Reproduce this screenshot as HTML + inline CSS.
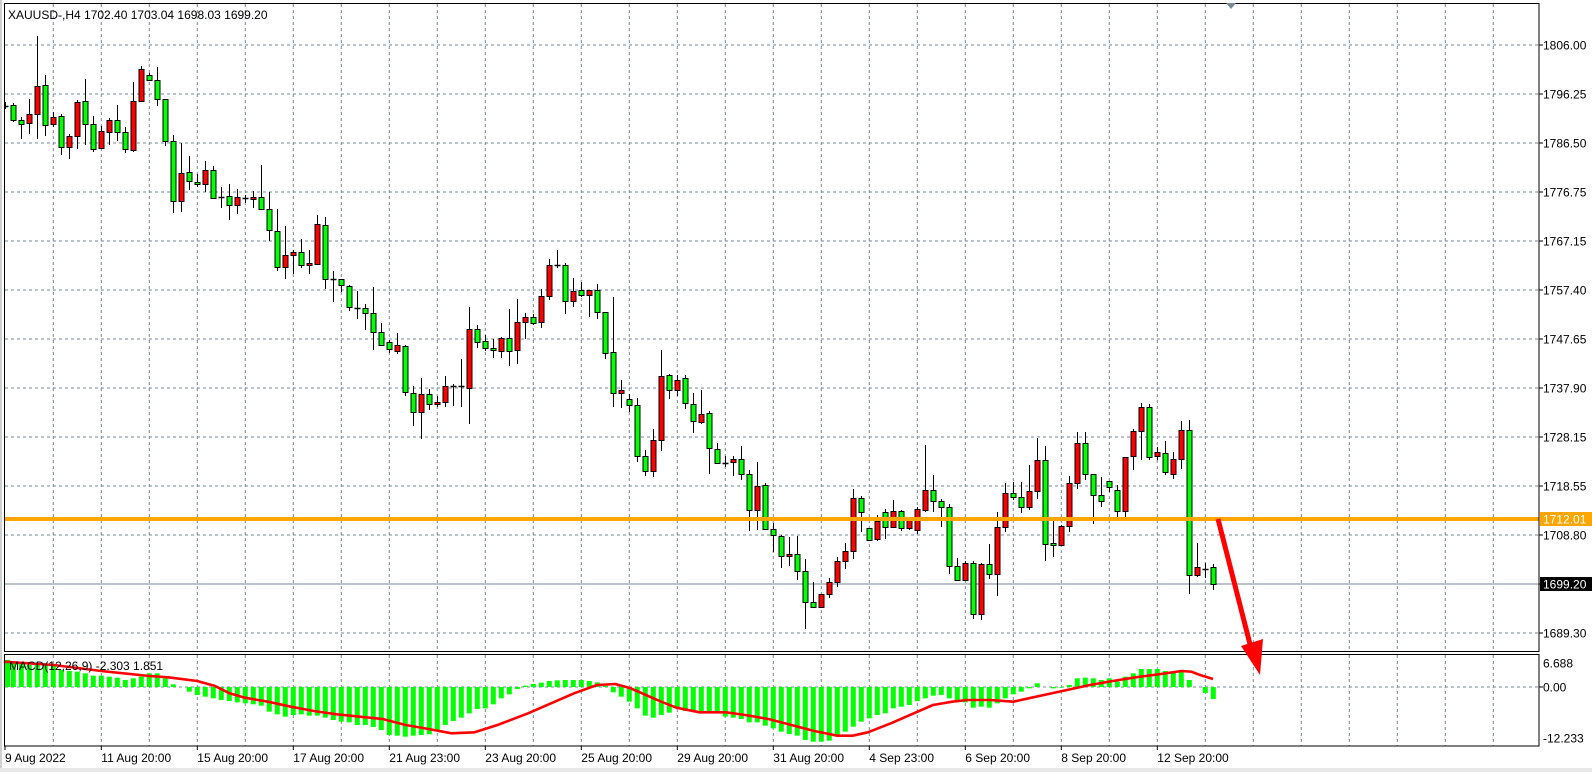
<!DOCTYPE html>
<html><head><meta charset="utf-8"><style>
html,body{margin:0;padding:0;background:#fff;}
svg{display:block;font-family:"Liberation Sans",Tahoma,sans-serif;font-size:12px;}
</style></head><body>
<svg id="c" width="1592" height="772" xmlns="http://www.w3.org/2000/svg">
<rect x="0" y="0" width="1592" height="772" fill="#fff"/>
<rect x="0" y="768" width="1592" height="4" fill="#e8e8e8"/>
<line x1="1" y1="0" x2="1" y2="768" stroke="#a0a0a0" stroke-width="1"/>
<g id="grid"></g>
<g id="hist"></g>
<polyline id="sig" fill="none" stroke="#ff0000" stroke-width="2.6" stroke-linejoin="round"/>
<line x1="5" y1="584" x2="1539" y2="584" stroke="#778899" stroke-width="1"/>
<g id="candles"></g>
<line x1="5" y1="519" x2="1539" y2="519" stroke="#ffa500" stroke-width="4"/>
<rect x="4.5" y="3.5" width="1534.5" height="648" fill="none" stroke="#000" stroke-width="1"/>
<rect x="4.5" y="654.5" width="1534.5" height="91.5" fill="none" stroke="#000" stroke-width="1"/>
<polygon points="1226,3 1236,3 1231,9" fill="#778899"/>
<text x="8" y="19" fill="#000">XAUUSD-,H4  1702.40 1703.04 1698.03 1699.20</text>
<text x="9" y="670" fill="#000">MACD(12,26,9) -2.303 1.851</text>
<g id="axis"></g>
<rect x="1540" y="512" width="52" height="14" fill="#ffa500"/>
<text x="1543" y="523.5" fill="#fff">1712.01</text>
<rect x="1540" y="577" width="52" height="14" fill="#000"/>
<text x="1543" y="588.5" fill="#fff">1699.20</text>
<line x1="1218" y1="519" x2="1252" y2="652" stroke="#ff0000" stroke-width="5"/>
<polygon points="1241,646 1263,639 1260,675" fill="#ff0000"/>
</svg>
<script>
var NS="http://www.w3.org/2000/svg";
function el(p,t,a,txt){var e=document.createElementNS(NS,t);for(var k in a)e.setAttribute(k,a[k]);if(txt!=null)e.textContent=txt;p.appendChild(e);return e;}
var g=document.getElementById('grid');
for(var k=0;k<=30;k++){var x=53.3+48*k;el(g,'line',{x1:x,y1:4,x2:x,y2:652,stroke:'#778899','stroke-dasharray':'3,3'});el(g,'line',{x1:x,y1:655,x2:x,y2:746,stroke:'#778899','stroke-dasharray':'3,3'});}
for(var k=0;k<=12;k++){var y=45+49*k;if(k==11)continue;el(g,'line',{x1:5,y1:y,x2:1539,y2:y,stroke:'#778899','stroke-dasharray':'3,3'});}
el(g,'line',{x1:5,y1:687,x2:1539,y2:687,stroke:'#778899','stroke-dasharray':'3,3'});
var ax=document.getElementById('axis');
var labs=["1806.00","1796.25","1786.50","1776.75","1767.15","1757.40","1747.65","1737.90","1728.15","1718.55","1708.80",null,"1689.30"];
for(var k=0;k<13;k++){var y=45+49*k;el(ax,'line',{x1:1539,y1:y,x2:1543,y2:y,stroke:'#000'});if(labs[k])el(ax,'text',{x:1543,y:y+4.5,fill:'#000'},labs[k]);}
[["6.688",663],["0.00",687],["-12.233",738]].forEach(function(a){el(ax,'text',{x:1543,y:a[1]+4.5,fill:'#000'},a[0]);});
el(ax,'line',{x1:1539,y1:687,x2:1543,y2:687,stroke:'#000'});
var tl=["11 Aug 20:00","15 Aug 20:00","17 Aug 20:00","21 Aug 23:00","23 Aug 20:00","25 Aug 20:00","29 Aug 20:00","31 Aug 20:00","4 Sep 23:00","6 Sep 20:00","8 Sep 20:00","12 Sep 20:00"];
el(ax,'text',{x:5,y:762,fill:'#000'},"9 Aug 2022");el(ax,'line',{x1:5,y1:746,x2:5,y2:750,stroke:'#000'});
for(var i=0;i<tl.length;i++){var x=53.3+48*(2*i+1);el(ax,'line',{x1:x,y1:746,x2:x,y2:750,stroke:'#000'});el(ax,'text',{x:x,y:762,fill:'#000'},tl[i]);}
var H=[45,50,55,60,58,55,60,75,78,80,85,92,92,95,98,105,100,95,85,85,100,118,127,140,150,155,160,165,168,172,175,178,182,200,208,215,210,208,212,212,218,225,230,232,240,240,246,255,270,272,275,272,270,268,258,240,228,218,205,192,190,178,160,148,132,122,117,113,108,106,105,105,105,108,112,122,142,155,170,190,212,218,210,203,190,198,198,200,200,200,215,218,222,232,232,242,250,260,267,272,285,290,290,287,270,260,245,230,220,210,205,190,185,180,168,160,152,150,160,165,172,188,185,188,175,160,148,140,130,115,125,130,128,120,100,98,100,105,100,110,95,85,72,72,72,78,80,75,105,127,144,162];
var hg=document.getElementById('hist');
for(var i=0;i<H.length;i++){var x=5.3+8*i,y=645+H[i]/3,t=Math.min(y,687),h=Math.abs(687-y);if(h<0.5)continue;el(hg,'rect',{x:Math.max(5,x-2.5),y:t,width:5,height:h,fill:'#00ff00'});}
var s1=[[10,50],[140,60],[265,78],[390,93],[440,97],[515,108],[560,122],[600,145],[640,158],[700,170],[760,185],[820,198],[880,208],[940,215],[1000,222],[1060,240],[1120,252],[1180,265],[1240,262],[1300,240],[1380,205],[1440,175],[1500,145],[1560,120]];
var s2=[[40,117],[80,130],[120,150],[160,170],[200,188],[260,202],[330,202],[380,210],[440,222],[500,240],[560,258],[620,272],[660,272],[700,262],[760,235],[820,205],[870,180],[920,170],[960,165],[1020,165],[1080,170],[1120,160],[1160,150],[1220,135],[1280,120],[1340,108],[1400,97],[1460,88],[1520,78],[1545,80],[1568,90]];
var pts=[];s1.forEach(function(p){pts.push((p[0]/2.613).toFixed(1)+','+(645+p[1]/3).toFixed(1));});
s2.forEach(function(p){pts.push((600+p[0]/2.613).toFixed(1)+','+(645+p[1]/3).toFixed(1));});
pts.push('1213,679');
document.getElementById('sig').setAttribute('points',pts.join(' '));
var C=[[102,109,106,106,'k'],[103,122,105,120,'g'],[117,139,120,124,'g'],[99,134,114,123,'r'],[36,139,86,114,'r'],[75,136,85,125,'g'],[112,127,117,124,'r'],[114,155,116,147,'g'],[134,159,136,147,'r'],[100,149,102,136,'r'],
[79,145,101,124,'g'],[116,152,124,149,'g'],[126,149,131,148,'r'],[118,145,120,132,'r'],[105,141,120,132,'g'],[127,153,132,149,'g'],[82,152,101,150,'r'],[66,101,69,101,'r'],[73,81,75,80,'g'],[67,106,80,99,'g'],
[99,146,99,141,'g'],[135,213,141,201,'g'],[143,212,173,201,'r'],[156,190,172,181,'g'],[174,187,182,184,'g'],[161,192,170,184,'r'],[166,198,170,198,'g'],[187,208,197,197,'k'],[184,220,196,205,'g'],[189,214,197,205,'r'],
[195,203,198,198,'k'],[191,208,197,199,'r'],[165,209,197,209,'g'],[192,241,209,230,'g'],[209,271,231,267,'g'],[226,279,255,267,'r'],[250,274,252,255,'r'],[239,268,252,265,'g'],[250,274,263,265,'r'],[215,264,224,264,'r'],
[217,289,225,279,'g'],[271,302,279,279,'k'],[279,292,279,285,'g'],[285,311,286,307,'g'],[291,319,308,308,'k'],[304,330,308,313,'g'],[287,350,313,332,'g'],[323,345,332,345,'g'],[340,353,342,349,'g'],[333,354,345,351,'r'],
[345,396,346,392,'g'],[386,426,393,412,'g'],[378,439,394,412,'r'],[389,410,394,404,'g'],[396,407,402,404,'r'],[376,407,386,402,'r'],[384,406,386,386,'k'],[359,407,386,388,'k'],[307,424,329,388,'r'],[325,348,329,342,'g'],
[335,351,341,348,'g'],[339,358,348,350,'g'],[337,358,338,351,'r'],[309,366,338,351,'g'],[299,364,322,350,'r'],[313,339,317,322,'r'],[314,325,317,323,'g'],[289,328,296,322,'r'],[259,300,265,296,'r'],[250,268,265,265,'k'],
[263,314,265,301,'g'],[278,307,291,301,'r'],[282,297,290,295,'g'],[290,317,290,295,'r'],[284,319,290,312,'g'],[312,359,312,353,'g'],[297,407,352,393,'g'],[380,408,390,393,'r'],[394,412,399,405,'g'],[398,462,405,456,'g'],
[450,476,456,471,'g'],[429,477,440,471,'r'],[350,451,376,440,'r'],[374,399,375,390,'g'],[375,396,380,390,'r'],[375,409,378,403,'g'],[393,433,404,421,'g'],[390,424,414,422,'r'],[411,474,413,448,'g'],[443,464,449,463,'g'],
[456,467,463,463,'k'],[456,476,459,462,'r'],[446,480,459,474,'g'],[470,531,474,510,'g'],[462,530,486,510,'r'],[483,530,485,529,'g'],[523,552,529,535,'g'],[535,568,536,556,'g'],[537,566,554,556,'r'],[536,580,554,571,'g'],
[559,629,571,602,'g'],[582,608,602,607,'g'],[594,608,594,607,'r'],[578,598,582,594,'r'],[557,587,561,582,'r'],[543,569,551,561,'r'],[489,559,498,551,'r'],[496,532,498,512,'g'],[528,540,528,540,'g'],[515,541,521,539,'r'],
[509,539,512,527,'g'],[500,528,511,527,'r'],[510,531,511,528,'g'],[519,530,519,528,'r'],[507,534,509,530,'r'],[445,512,490,510,'r'],[475,512,490,501,'g'],[499,527,501,507,'g'],[504,574,507,566,'g'],[558,580,566,580,'g'],
[561,580,563,580,'r'],[561,619,563,614,'g'],[563,620,564,614,'r'],[544,579,564,574,'g'],[512,596,527,574,'r'],[483,532,493,527,'r'],[482,500,493,497,'g'],[482,513,497,507,'g'],[465,510,491,507,'r'],[438,499,460,491,'r'],
[446,561,460,544,'g'],[521,557,543,545,'g'],[525,545,526,545,'r'],[476,532,483,526,'r'],[432,489,443,483,'r'],[432,480,443,474,'g'],[474,524,474,495,'g'],[477,507,495,501,'g'],[481,492,481,487,'g'],[485,517,490,511,'g'],
[457,517,457,511,'r'],[429,470,431,456,'r'],[403,460,407,431,'r'],[404,460,407,457,'g'],[447,460,452,456,'r'],[441,475,453,472,'g'],[452,479,459,474,'r'],[421,469,430,459,'r'],[420,594,430,575,'g'],[543,577,567,575,'r'],
[563,578,569,569,'k'],[564,590,567,584,'g']];
var cg=document.getElementById('candles');
for(var i=0;i<C.length;i++){var c=C[i],x=Math.round(5.3+8*i)+0.5;
 if(x<5)continue;
 el(cg,'line',{x1:x,y1:c[0],x2:x,y2:c[1],stroke:'#000','stroke-width':1});
 if(c[4]=='k'||c[3]-c[2]<1){el(cg,'line',{x1:Math.max(5,x-3),y1:c[2]+0.5,x2:x+3,y2:c[2]+0.5,stroke:'#000','stroke-width':1.5});}
 else{el(cg,'rect',{x:Math.max(5,x-2.5),y:c[2]+0.5,width:5,height:c[3]-c[2],fill:c[4]=='g'?'#00ff00':'#ff0000',stroke:'#000','stroke-width':1});}
}
</script>
</body></html>
